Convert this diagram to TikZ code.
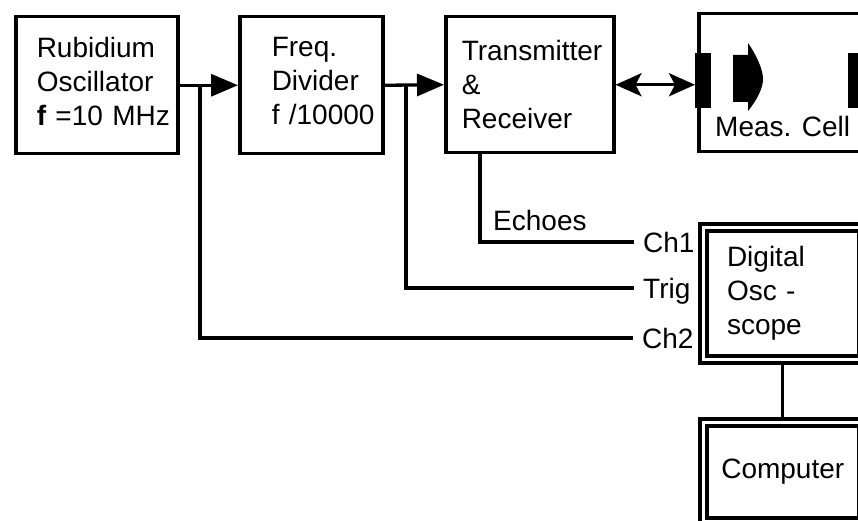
\documentclass[tikz,border=0pt]{standalone}
\usepackage{fontspec}
\setmainfont{Liberation Sans}
\usetikzlibrary{arrows.meta,calc}
\begin{document}
\begin{tikzpicture}[x=1pt,y=-1pt,
  every node/.style={font=\fontsize{28}{34}\selectfont},
  box/.style={draw,line width=3.5pt,anchor=north west,inner ysep=0pt,align=left},
  dbox/.style={draw,line width=4pt,double,double distance=3pt,anchor=north west,inner ysep=0pt},
  wire/.style={line width=3.3pt},
  lbl/.style={inner ysep=0pt,inner xsep=0pt,text height=20pt,text depth=0pt},
  chl/.style={inner ysep=0pt,inner xsep=9pt,text height=20pt,text depth=0pt,anchor=west},
  tri/.style={-{Triangle[length=27pt,width=22pt]}},
  dbl/.style={{Stealth[length=26pt,width=23pt,inset=6pt]}-{Stealth[length=26pt,width=23pt,inset=6pt]}}]
\useasboundingbox (0,0) rectangle (858,521);
\clip (0,0) rectangle (858,521);

% blocks
\node[box,minimum width=162pt,minimum height=137pt,inner xsep=21pt,text width=120pt] (osc) at (14,15)
  {Rubidium\\Oscillator\\\textbf{f}~=10~MHz\rule[-8pt]{0pt}{0pt}};
\node[box,minimum width=143pt,minimum height=137pt,inner xsep=32pt,text width=79pt] (div) at (238,15)
  {Freq.\\Divider\\f~/10000\rule[-8pt]{0pt}{0pt}};
\node[box,minimum width=168pt,minimum height=136pt,inner xsep=16pt,text width=136pt] (trans) at (444,15)
  {Transmitter\\\&\\Receiver};
\node[box,minimum width=203pt,minimum height=138pt] (cell) at (697,12) {};
\node[dbox,minimum width=158.5pt,minimum height=132pt,inner xsep=23.5pt,text width=111.5pt,align=left] (scope) at (701.5,225)
  {Digital\\Osc~-\\scope};
\node[dbox,minimum width=158.5pt,minimum height=99pt,align=center] (comp) at (701.5,420) {Computer};

% measuring cell contents
\node[fill,minimum width=16pt,minimum height=55pt,inner sep=0pt,anchor=north west] (tr1) at (695,53) {};
\node[fill,minimum width=22pt,minimum height=55pt,inner sep=0pt,anchor=north west] (tr2) at (848,53) {};
\fill (733,55) -- (748,55) -- (748,43) .. controls (757,56) and (763,70) .. (763,79)
  .. controls (763,88) and (757,100) .. (748,111) -- (748,102) -- (733,102) -- cycle;
\node[lbl,anchor=base west] (celltxt) at (715,137) {Meas. Cell};

% labels
\node[chl] (ch1) at (634,242) {Ch1};
\node[chl] (trig) at (634,288) {Trig};
\node[chl] (ch2) at (633,338) {Ch2};
\node[lbl,anchor=west] (echo) at (493,220) {Echoes};

% connectors
\draw[wire,tri] (osc.east) -- (div.west);
\draw[wire,tri] (div.east) -- (trans.west);
\draw[wire,dbl] (trans.east) -- (trans.east -| tr1.west);
\coordinate (j1) at (200,338);
\coordinate (j2) at (406,288);
\coordinate (e1) at (480,242);
\draw[wire] (j1 |- osc.east) -- (j1) -- (ch2.west);
\draw[wire] (j2 |- div.east) -- (j2) -- (trig.west);
\draw[wire] (trans.south -| e1) -- (e1) -- (ch1.west);
\draw[wire] (scope.south) -- (comp.north);
\end{tikzpicture}
\end{document}
